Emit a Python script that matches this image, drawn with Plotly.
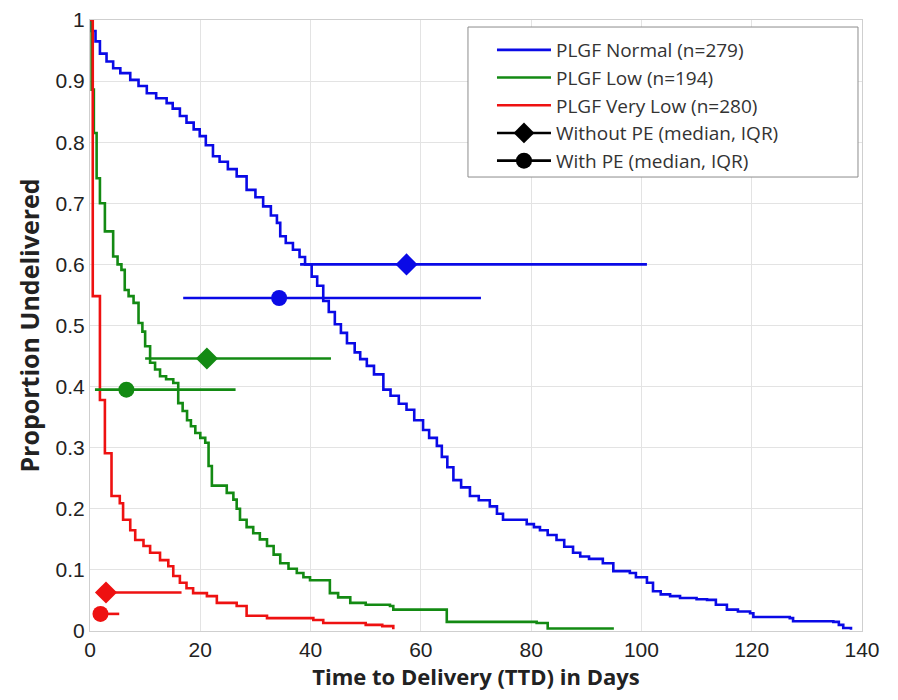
import plotly.graph_objects as go

# Kaplan-Meier step points (day, proportion undelivered)
normal_t = [0, 0.3, 1.0, 1.8, 3.0, 4.2, 5.5, 7.3, 8.8, 10.3, 12.0, 13.9, 15.0, 16.3, 17.5, 18.8,
            19.9, 21.0, 22.3, 23.5, 25.0, 26.6, 28.4, 30.0, 31.4, 32.8, 33.9, 34.5, 35.5, 36.8,
            38.0, 39.0, 40.2, 41.2, 42.3, 43.3, 44.4, 45.5, 46.6, 48.0, 49.0, 50.2, 51.5, 53.2,
            54.5, 56.0, 57.4, 58.8, 60.4, 61.5, 62.9, 63.8, 64.8, 65.9, 67.3, 68.9, 70.5, 72.5,
            73.8, 74.9, 79.2, 80.5, 81.6, 83.0, 84.6, 86.0, 87.6, 88.9, 90.5, 93.0, 94.9, 97.9,
            99.0, 101.0, 102.1, 103.5, 105.2, 107.0, 110.0, 111.9, 113.5, 115.5, 117.5, 119.7,
            120.3, 126.9, 127.5, 134.8, 135.8, 136.6, 138.0]
normal_s = [1.0, 0.982, 0.965, 0.945, 0.932, 0.921, 0.913, 0.902, 0.892, 0.880, 0.872, 0.864,
            0.855, 0.843, 0.832, 0.821, 0.810, 0.795, 0.777, 0.768, 0.756, 0.744, 0.722, 0.710,
            0.695, 0.680, 0.668, 0.646, 0.635, 0.624, 0.612, 0.600, 0.580, 0.565, 0.540, 0.522,
            0.502, 0.488, 0.471, 0.456, 0.445, 0.434, 0.420, 0.395, 0.385, 0.372, 0.362, 0.345,
            0.329, 0.316, 0.303, 0.285, 0.268, 0.247, 0.235, 0.221, 0.214, 0.204, 0.192, 0.182,
            0.175, 0.170, 0.165, 0.157, 0.149, 0.138, 0.128, 0.122, 0.118, 0.111, 0.098, 0.095,
            0.088, 0.079, 0.065, 0.060, 0.057, 0.054, 0.052, 0.051, 0.043, 0.035, 0.032, 0.029,
            0.023, 0.021, 0.016, 0.015, 0.010, 0.005, 0.002]

low_t = [0, 0.3, 0.7, 1.2, 1.8, 2.7, 4.2, 5.0, 5.7, 6.3, 7.0, 7.9, 8.8, 9.5, 10.0, 10.9, 11.8,
         12.7, 13.8, 15.1, 16.0, 16.8, 17.6, 18.3, 19.1, 20.0, 20.9, 21.5, 22.1, 24.8, 26.0,
         26.6, 27.2, 28.4, 29.6, 30.8, 32.1, 33.3, 34.5, 36.0, 37.5, 38.7, 39.9, 43.5, 45.0,
         47.2, 50.0, 54.4, 55.0, 64.7, 81.0, 83.0, 95.0]
low_s = [1.0, 0.886, 0.815, 0.741, 0.700, 0.654, 0.613, 0.600, 0.591, 0.558, 0.548, 0.537,
         0.504, 0.490, 0.466, 0.439, 0.428, 0.417, 0.412, 0.406, 0.373, 0.360, 0.345, 0.335,
         0.324, 0.316, 0.308, 0.270, 0.238, 0.226, 0.215, 0.200, 0.182, 0.170, 0.160, 0.150,
         0.139, 0.125, 0.111, 0.102, 0.095, 0.088, 0.083, 0.062, 0.055, 0.046, 0.043, 0.041,
         0.035, 0.015, 0.013, 0.004, 0.004]

vlow_t = [0, 0.5, 1.8, 2.7, 3.9, 5.4, 6.0, 7.3, 8.2, 9.7, 10.9, 12.7, 14.2, 15.1, 16.3, 17.5,
          18.7, 21.2, 23.0, 26.6, 28.4, 32.1, 40.5, 42.3, 50.0, 53.0, 55.0]
vlow_s = [1.0, 0.548, 0.378, 0.291, 0.221, 0.209, 0.182, 0.165, 0.149, 0.139, 0.128, 0.116,
          0.106, 0.090, 0.079, 0.070, 0.062, 0.057, 0.046, 0.041, 0.025, 0.021, 0.018, 0.013,
          0.010, 0.008, 0.003]

# Median and IQR of time to delivery, per group (Normal, Low, Very Low)
group_names = ["PLGF Normal (n=279)", "PLGF Low (n=194)", "PLGF Very Low (n=280)"]
group_colors = ["#0a0ae6", "#138a13", "#ee1111"]
nope_y = [0.600, 0.446, 0.063]
nope_med = [57.4, 21.2, 2.9]
nope_q1 = [38.1, 10.0, 1.5]
nope_q3 = [101.0, 43.7, 16.6]
pe_y = [0.545, 0.395, 0.028]
pe_med = [34.3, 6.6, 1.9]
pe_q1 = [16.9, 0.9, 1.0]
pe_q3 = [70.9, 26.4, 5.3]

x_ticks = [0, 20, 40, 60, 80, 100, 120, 140]
y_ticks = [0, 0.1, 0.2, 0.3, 0.4, 0.5, 0.6, 0.7, 0.8, 0.9, 1]
y_tick_text = ["0", "0.1", "0.2", "0.3", "0.4", "0.5", "0.6", "0.7", "0.8", "0.9", "1"]

fig = go.Figure()

curves = [(normal_t, normal_s), (low_t, low_s), (vlow_t, vlow_s)]
for (t, s), name, col in zip(curves, group_names, group_colors):
    fig.add_trace(go.Scatter(x=t, y=s, mode="lines", line=dict(color=col, width=2.6, shape="hv"),
                             name=name, hoverinfo="skip"))

for i in range(3):
    col = group_colors[i]
    fig.add_trace(go.Scatter(
        x=[nope_med[i]], y=[nope_y[i]], mode="markers",
        marker=dict(symbol="diamond", size=17, color=col),
        error_x=dict(type="data", symmetric=False,
                     array=[nope_q3[i] - nope_med[i]], arrayminus=[nope_med[i] - nope_q1[i]],
                     color=col, thickness=2.6, width=0),
        showlegend=False, hoverinfo="skip"))
    fig.add_trace(go.Scatter(
        x=[pe_med[i]], y=[pe_y[i]], mode="markers",
        marker=dict(symbol="circle", size=16, color=col),
        error_x=dict(type="data", symmetric=False,
                     array=[pe_q3[i] - pe_med[i]], arrayminus=[pe_med[i] - pe_q1[i]],
                     color=col, thickness=2.6, width=0),
        showlegend=False, hoverinfo="skip"))

# legend-only entries
fig.add_trace(go.Scatter(x=[None], y=[None], mode="lines+markers", name="Without PE (median, IQR)",
                         line=dict(color="black", width=2.6),
                         marker=dict(symbol="diamond", size=16, color="black")))
fig.add_trace(go.Scatter(x=[None], y=[None], mode="lines+markers", name="With PE (median, IQR)",
                         line=dict(color="black", width=2.6),
                         marker=dict(symbol="circle", size=16, color="black")))

grid = "#e3e3e3"
fig.update_layout(
    width=898, height=700,
    margin=dict(l=82, r=44, t=12, b=77),
    paper_bgcolor="white", plot_bgcolor="white",
    showlegend=True,
    legend=dict(x=0.5207, y=0.982, xanchor="left", yanchor="top",
                bgcolor="rgba(0,0,0,0)", borderwidth=0,
                font=dict(family="Open Sans", size=19, color="#333"),
                itemwidth=54),
    shapes=[dict(type="rect", xref="paper", yref="paper", x0=0.4896, x1=0.9948, y0=0.743, y1=0.9885,
                 fillcolor="white", line=dict(color="#8c8c8c", width=1), layer="above")],
    xaxis=dict(range=[0, 140], tickvals=x_ticks, ticktext=[str(v) for v in x_ticks],
               automargin=False, ticklabeloverflow="allow",
               showgrid=True, gridcolor=grid, gridwidth=1, zeroline=False,
               showline=True, linecolor="#cfcfcf", linewidth=1, mirror=True, ticks="",
               tickfont=dict(family="Liberation Sans", size=21, color="#222"),
               title=dict(text="Time to Delivery (TTD) in Days", standoff=8,
                          font=dict(family="Open Sans", size=22, color="#222", weight="bold"))),
    yaxis=dict(range=[0, 1], tickvals=y_ticks, ticktext=y_tick_text,
               automargin=False, ticklabeloverflow="allow",
               showgrid=True, gridcolor=grid, gridwidth=1, zeroline=False,
               showline=True, linecolor="#cfcfcf", linewidth=1, mirror=True, ticks="",
               tickfont=dict(family="Liberation Sans", size=21, color="#222"),
               title=dict(text="Proportion Undelivered", standoff=8,
                          font=dict(family="Open Sans", size=25, color="#222", weight="bold"))),
)

fig.write_html("out.html")
